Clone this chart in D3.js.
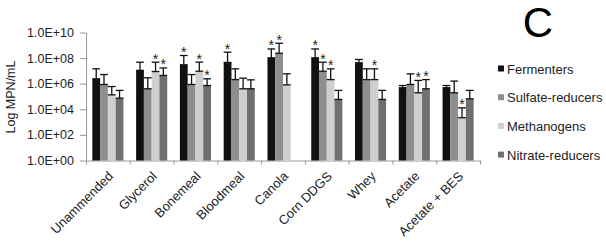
<!DOCTYPE html>
<html><head><meta charset="utf-8">
<script src="https://cdn.jsdelivr.net/npm/d3@7"></script>
<style>body{margin:0;background:#fff}svg{display:block;font-family:"Liberation Sans",Arial,sans-serif}</style>
</head><body>
<svg id="c" width="606" height="242"></svg>
<script>
const categories = ["Unammended","Glycerol","Bonemeal","Bloodmeal","Canola","Corn DDGS","Whey","Acetate","Acetate + BES"];
const seriesNames = ["Fermenters","Sulfate-reducers","Methanogens","Nitrate-reducers"];
const seriesColors = ["#111111","#8e8e8e","#cfcfcf","#6f6f6f"];
const fermenters = [2.4e6, 1.1e7, 3.0e7, 4.6e7, 1.05e8, 1.05e8, 4.3e7, 4.8e5, 4.8e5];
const fermentersErr = [1.45e7, 4.8e7, 1.6e8, 2.9e8, 5.2e8, 5.2e8, 7.8e7, 7.2e5, 7.2e5];
const sulfate = [8.7e5, 4.0e5, 8.7e5, 2.1e6, 2.4e8, 9.5e6, 2.1e6, 8.7e5, 1.95e5];
const sulfateErr = [5.2e6, 2.9e6, 5.2e6, 1.45e7, 1.45e9, 4.8e7, 1.45e7, 5.9e6, 1.6e6];
const methanogens = [1.35e5, 8.9e6, 9.5e6, 4.0e5, 8.1e5, 2.1e6, 2.1e6, 1.95e5, 2.2e3];
const methanogensErr = [6.0e5, 4.8e7, 4.8e7, 2.7e6, 5.9e6, 1.45e7, 1.45e7, 1.8e6, 1.3e4];
const nitrate = [7.4e4, 4.4e6, 7.2e5, 4.0e5, null, 5.9e4, 5.9e4, 4.0e5, 6.6e4];
const nitrateErr = [3.0e5, 1.7e7, 2.4e6, 2.0e6, null, 3.0e5, 3.0e5, 2.1e6, 3.0e5];
const fermentersSig = [0,0,1,1,1,1,0,0,0];
const sulfateSig = [0,0,0,0,1,1,0,0,0];
const methanogensSig = [0,1,1,0,0,1,1,1,1];
const nitrateSig = [0,1,1,0,0,0,0,1,0];
const yTicks = [1e0,1e2,1e4,1e6,1e8,1e10];
const yTickLabels = ["1.0E+00","1.0E+02","1.0E+04","1.0E+06","1.0E+08","1.0E+10"];

const vals = [fermenters, sulfate, methanogens, nitrate];
const errs = [fermentersErr, sulfateErr, methanogensErr, nitrateErr];
const sigs = [fermentersSig, sulfateSig, methanogensSig, nitrateSig];

const svg = d3.select("#c");
const x0 = d3.scaleBand().domain(categories).range([86, 480]).paddingInner(0.29).paddingOuter(0.145);
const x1 = d3.scaleBand().domain(seriesNames).range([0, x0.bandwidth()]);
const y = d3.scaleLog().domain([1, 1e10]).range([160.5, 32.5]);
const axisCol = "#9a9a9a";

// y axis
const ya = svg.append("g").attr("transform","translate(86,0)")
  .call(d3.axisLeft(y).tickValues(yTicks).tickFormat((d,i)=>yTickLabels[i]).tickSizeInner(6).tickSizeOuter(0).tickPadding(6));
ya.select(".domain").attr("stroke",axisCol);
ya.selectAll(".tick line").attr("stroke",axisCol);
ya.selectAll(".tick text").attr("fill","#222").style("font-size","12.5px").style("font-family","Liberation Sans, Arial, sans-serif");

// x axis
const xb = d3.scaleLinear().domain([0, categories.length]).range([86, 480]);
const xa = svg.append("g").attr("transform","translate(0,160.5)")
  .call(d3.axisBottom(xb).tickValues(d3.range(categories.length+1)).tickFormat("").tickSizeInner(4).tickSizeOuter(0));
xa.select(".domain").attr("stroke",axisCol);
xa.selectAll(".tick line").attr("stroke",axisCol);

// category labels
svg.append("g").selectAll("text").data(categories).join("text")
  .attr("transform", d => `translate(${x0(d)+x0.bandwidth()/2+6},${177}) rotate(-45)`)
  .attr("text-anchor","end").attr("fill","#222").style("font-size","13px").text(d=>d);

// bars
seriesNames.forEach((s, si) => {
  const g = svg.append("g");
  categories.forEach((c, ci) => {
    const v = vals[si][ci];
    if (v == null) return;
    const bx = x0(c) + x1(s), bw = x1.bandwidth();
    g.append("rect").attr("x", bx).attr("y", y(v)).attr("width", bw).attr("height", y(1) - y(v)).attr("fill", seriesColors[si]);
  });
});
// error bars and asterisks
seriesNames.forEach((s, si) => {
  const g = svg.append("g").attr("stroke","#111").attr("stroke-width",1.3);
  categories.forEach((c, ci) => {
    const v = vals[si][ci], e = errs[si][ci];
    if (v == null) return;
    const cx = x0(c) + x1(s) + x1.bandwidth()/2, hw = x1.bandwidth()/2;
    g.append("line").attr("x1",cx).attr("x2",cx).attr("y1",y(v)).attr("y2",y(e));
    g.append("line").attr("x1",cx-hw).attr("x2",cx+hw).attr("y1",y(e)).attr("y2",y(e));
    g.append("line").attr("x1",cx-hw).attr("x2",cx+hw).attr("y1",y(v)).attr("y2",y(v));
    if (sigs[si][ci]) {
      svg.append("text").attr("x",cx).attr("y",y(e)+1.5).attr("text-anchor","middle")
        .attr("fill","#222").style("font-size","14px").text("*");
    }
  });
});

// y title
svg.append("text").attr("transform","translate(15,97) rotate(-90)").attr("text-anchor","middle")
  .attr("fill","#222").style("font-size","12.5px").text("Log MPN/mL");

// panel letter
svg.append("text").attr("x",538).attr("y",37).attr("text-anchor","middle").attr("fill","#000")
  .style("font-size","42px").text("C");

// legend
const lg = svg.append("g").selectAll("g").data(seriesNames).join("g")
  .attr("transform",(d,i)=>`translate(498,${69 + i*28.7})`);
lg.append("rect").attr("x",0).attr("y",-3.5).attr("width",6).attr("height",6).attr("fill",(d,i)=>seriesColors[i]);
lg.append("text").attr("x",9).attr("y",4.5).attr("fill","#222").style("font-size","13px").text(d=>d);
</script>
</body></html>
